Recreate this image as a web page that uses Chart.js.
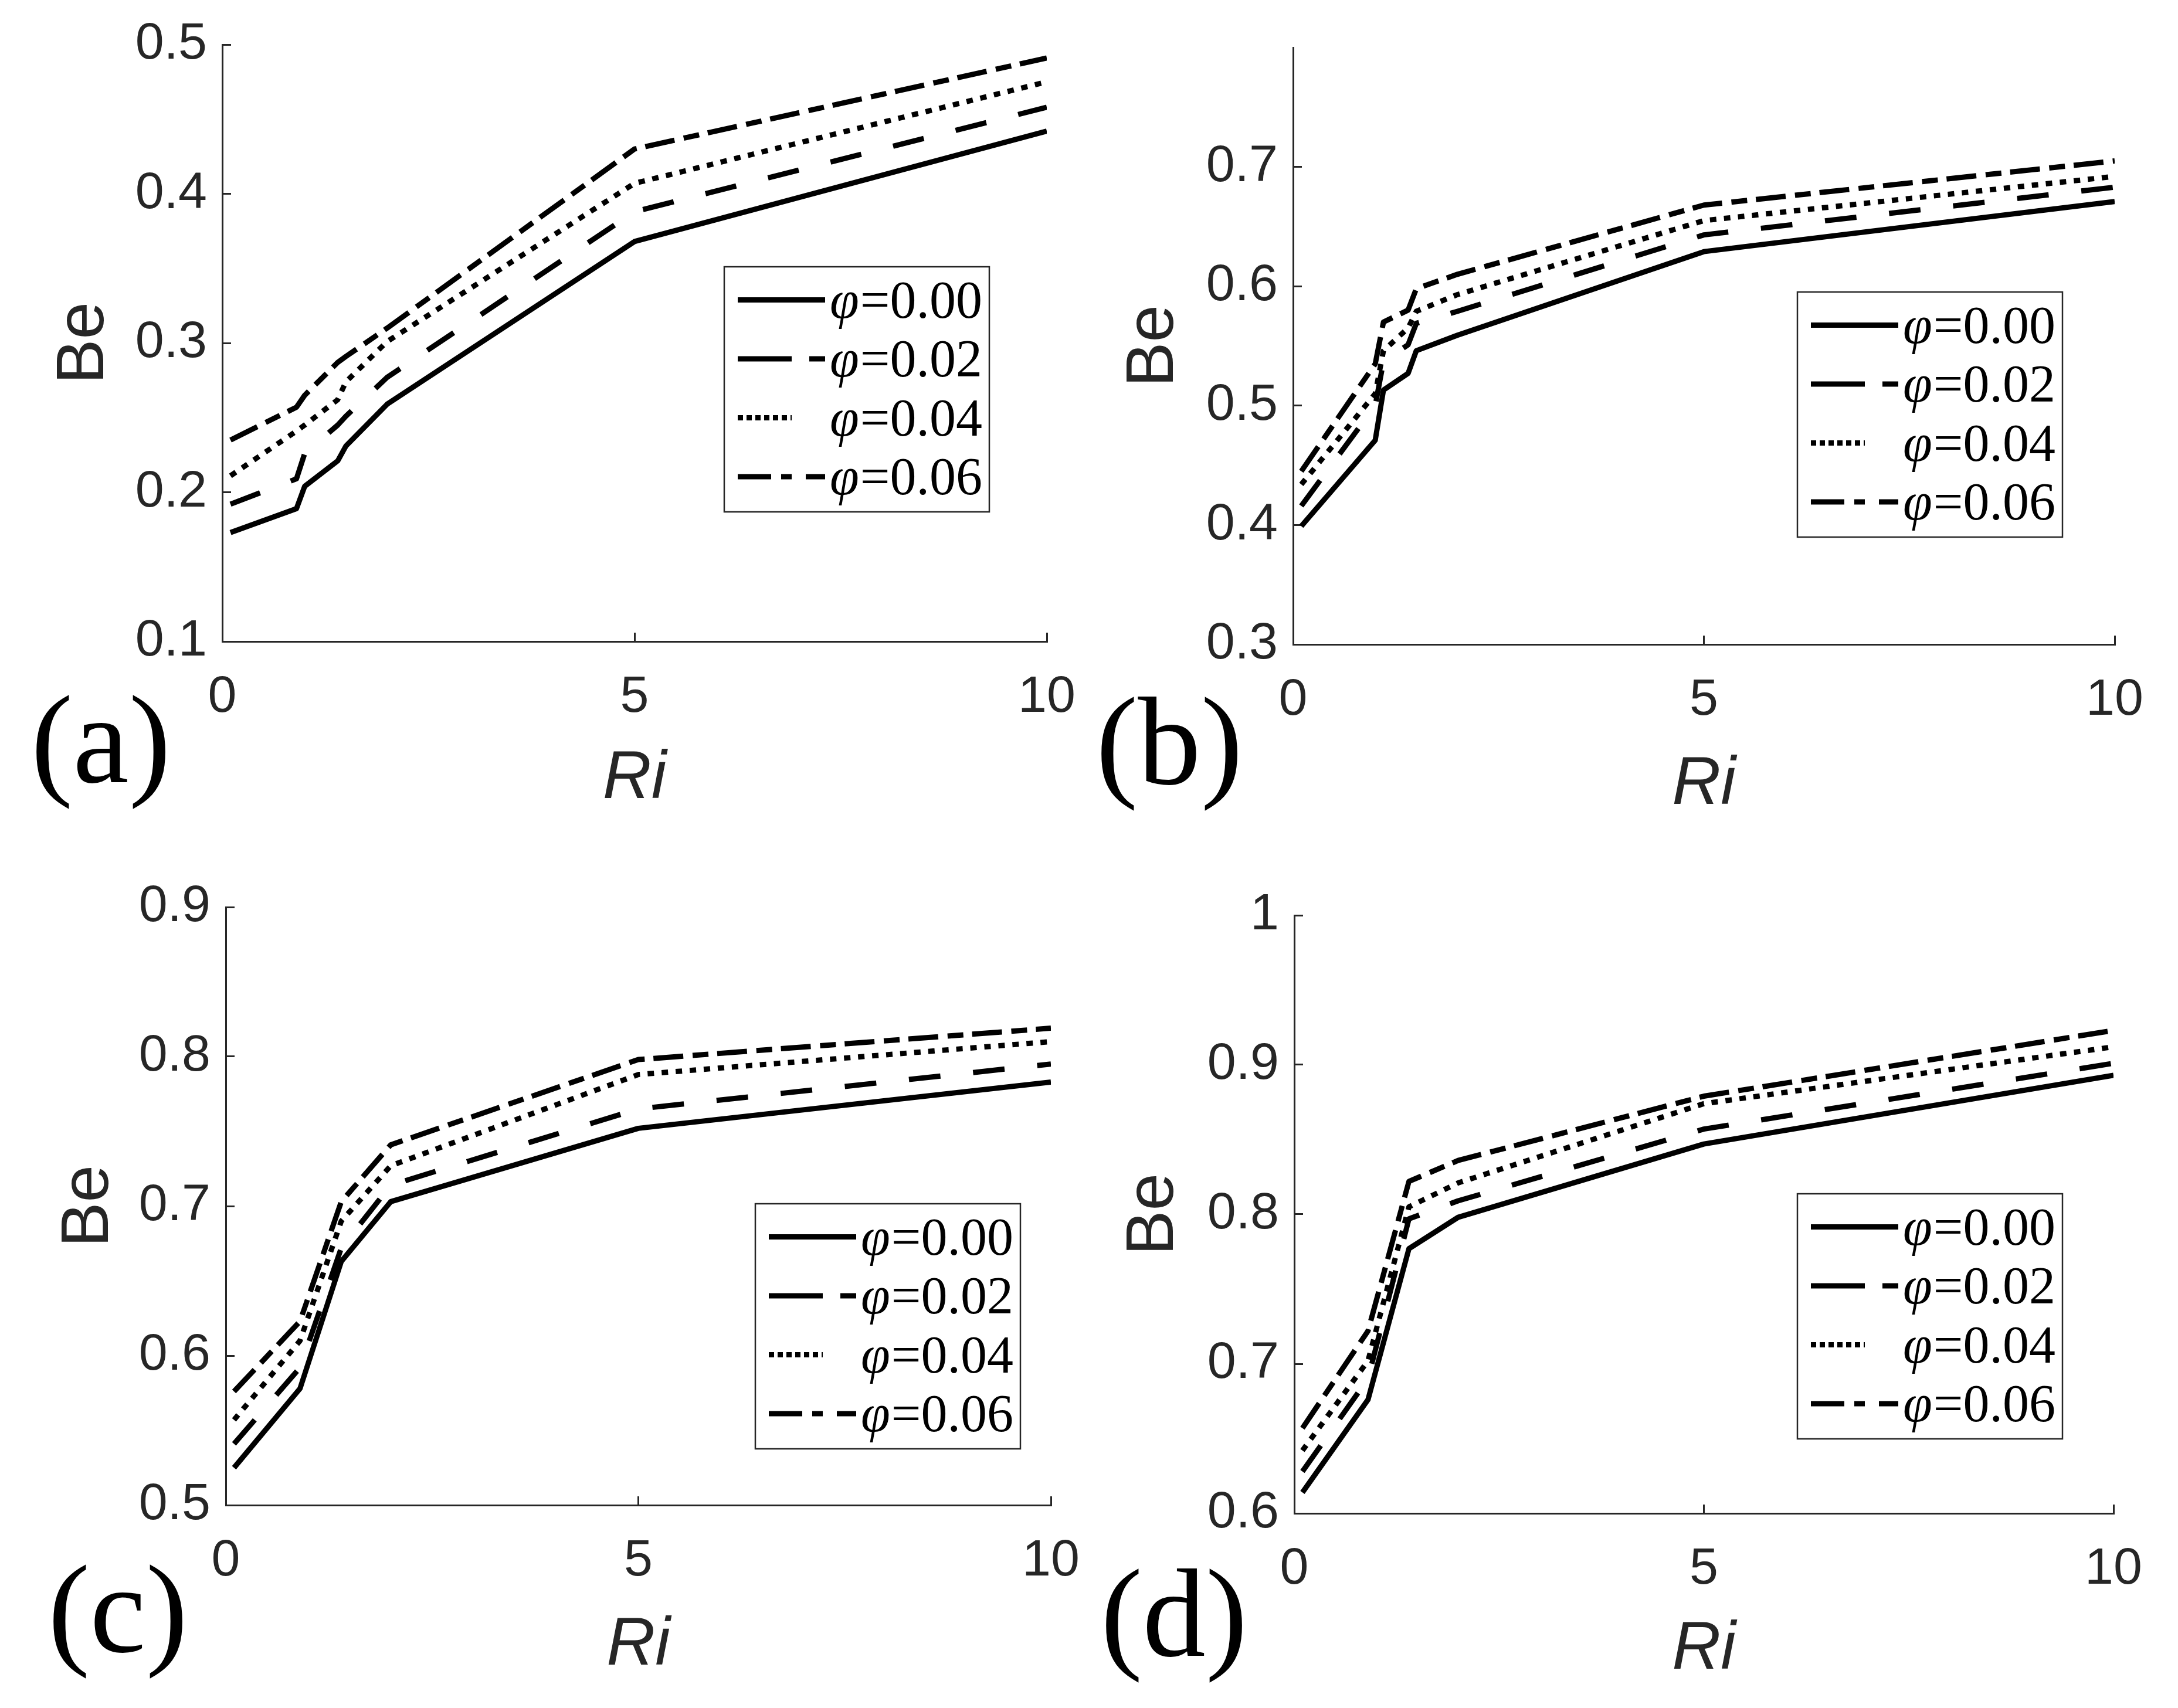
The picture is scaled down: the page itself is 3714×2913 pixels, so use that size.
<!DOCTYPE html>
<html>
<head>
<meta charset="utf-8">
<script src="https://cdn.jsdelivr.net/npm/chart.js@4"></script>
<style>
  html, body { margin: 0; padding: 0; background: #fff; }
  #wrap { position: relative; width: 3714px; height: 2913px; background: #fff; }
  canvas { position: absolute; }
</style>
</head>
<body>
<div id="wrap">
  <canvas id="pa" width="1857" height="1456" style="left:0px;top:0px"></canvas>
  <canvas id="pb" width="1857" height="1456" style="left:1857px;top:0px"></canvas>
  <canvas id="pc" width="1857" height="1457" style="left:0px;top:1456px"></canvas>
  <canvas id="pd" width="1857" height="1457" style="left:1857px;top:1456px"></canvas>
</div>
<script>
// legend values of the volume fraction
const phiLabels = ["0.00", "0.02", "0.04", "0.06"];

// panel (a)
const riA   = [0.1, 0.9, 1.0, 1.4, 1.5, 2, 5, 10];
const beA00 = [0.173, 0.189, 0.204, 0.221, 0.231, 0.259, 0.368, 0.442];
const beA02 = [0.192, 0.209, 0.226, 0.245, 0.251, 0.277, 0.388, 0.458];
const beA04 = [0.211, 0.241, 0.245, 0.262, 0.274, 0.301, 0.407, 0.475];
const beA06 = [0.235, 0.257, 0.265, 0.287, 0.291, 0.310, 0.430, 0.491];

// panel (b)
const riB   = [0.1, 1.0, 1.1, 1.4, 1.5, 2, 5, 10];
const beB00 = [0.399, 0.471, 0.513, 0.527, 0.546, 0.559, 0.629, 0.671];
const beB02 = [0.416, 0.500, 0.537, 0.551, 0.569, 0.579, 0.643, 0.683];
const beB04 = [0.434, 0.510, 0.546, 0.565, 0.579, 0.593, 0.655, 0.692];
const beB06 = [0.445, 0.535, 0.570, 0.580, 0.598, 0.610, 0.668, 0.705];

// panel (c)
const riC   = [0.1, 0.9, 1.4, 2, 5, 10];
const beC00 = [0.525, 0.578, 0.663, 0.703, 0.752, 0.783];
const beC02 = [0.541, 0.592, 0.672, 0.714, 0.765, 0.795];
const beC04 = [0.557, 0.610, 0.690, 0.727, 0.788, 0.810];
const beC06 = [0.576, 0.623, 0.703, 0.741, 0.798, 0.819];

// panel (d)
const riD   = [0.1, 0.9, 1.4, 2, 5, 10];
const beD00 = [0.614, 0.676, 0.777, 0.798, 0.847, 0.893];
const beD02 = [0.628, 0.690, 0.797, 0.809, 0.857, 0.901];
const beD04 = [0.642, 0.702, 0.805, 0.821, 0.874, 0.912];
const beD06 = [0.657, 0.722, 0.822, 0.836, 0.879, 0.923];

// line styles (solid, dashed, dotted, dash-dot)
const lineDash   = [[], [54, 56], [11, 13], [51, 16, 27, 15]];
const legendDash = [[], [92, 30], [9, 6], [57, 17, 18, 24]];
const legendLen  = [149, 149, 92, 149];

const W = 1857;
const AXIS = '#262626';
const SANS = '"Liberation Sans", Arial, sans-serif';
const SERIF = '"Liberation Serif", "Times New Roman", serif';
const TICK_SIZE = 88;
const TITLE_SIZE = 115;

const panels = [
  { id: 'pa', tag: '(a)', ri: riA, be: [beA00, beA02, beA04, beA06], yMin: 0.1, yMax: 0.5, hideTop: false,
    area: { l: 379, r: 1785, t: 76, b: 1094 }, h: 1456, yTitleX: 144, xTitleBase: 1369,
    tagPos: { x: 172, y: 1334 }, legend: { x: 1235, y: 455 } },
  { id: 'pb', tag: '(b)', ri: riB, be: [beB00, beB02, beB04, beB06], yMin: 0.3, yMax: 0.8, hideTop: true,
    area: { l: 348, r: 1749, t: 81, b: 1099 }, h: 1456, yTitleX: 111, xTitleBase: 1379,
    tagPos: { x: 137, y: 1337 }, legend: { x: 1208, y: 498 } },
  { id: 'pc', tag: '(c)', ri: riC, be: [beC00, beC02, beC04, beC06], yMin: 0.5, yMax: 0.9, hideTop: false,
    area: { l: 385, r: 1792, t: 91, b: 1111 }, h: 1457, yTitleX: 152, xTitleBase: 1391,
    tagPos: { x: 201, y: 1361 }, legend: { x: 1288, y: 597 } },
  { id: 'pd', tag: '(d)', ri: riD, be: [beD00, beD02, beD04, beD06], yMin: 0.6, yMax: 1.0, hideTop: false,
    area: { l: 350, r: 1747, t: 105, b: 1125 }, h: 1457, yTitleX: 111, xTitleBase: 1398,
    tagPos: { x: 145, y: 1368 }, legend: { x: 1208, y: 580 } }
];

function drawLegend(ctx, p) {
  const bx = p.legend.x, by = p.legend.y, bw = 452, bh = 418;
  ctx.save();
  ctx.fillStyle = '#fff';
  ctx.fillRect(bx, by, bw, bh);
  ctx.strokeStyle = AXIS;
  ctx.lineWidth = 2.5;
  ctx.setLineDash([]);
  ctx.strokeRect(bx, by, bw, bh);
  for (let k = 0; k < 4; k++) {
    const ry = by + 56.5 + k * 100.5;
    ctx.beginPath();
    ctx.setLineDash(legendDash[k]);
    ctx.lineCap = 'butt';
    ctx.lineWidth = 9;
    ctx.strokeStyle = '#000';
    ctx.moveTo(bx + 23, ry);
    ctx.lineTo(bx + 23 + legendLen[k], ry);
    ctx.stroke();
    ctx.setLineDash([]);
    ctx.fillStyle = '#000';
    ctx.textBaseline = 'alphabetic';
    ctx.textAlign = 'left';
    let tx = bx + 180;
    const base = ry + 30;
    ctx.font = 'italic 90px ' + SERIF;
    ctx.fillText('\u03C6', tx, base);
    tx += ctx.measureText('\u03C6').width + 2;
    ctx.font = '90px ' + SERIF;
    ctx.fillText('=' + phiLabels[k], tx, base);
  }
  ctx.restore();
}

function makeChart(p) {
  const canvas = document.getElementById(p.id);
  const tickFont = { family: SANS, size: TICK_SIZE, lineHeight: 1.2 };
  const lh = TITLE_SIZE * 1.2;
  const xTitleY = p.xTitleBase - 0.3465 * TITLE_SIZE;

  const decor = {
    id: 'decor_' + p.id,
    afterDraw(chart) {
      const ctx = chart.ctx;
      drawLegend(ctx, p);
      ctx.save();
      ctx.fillStyle = '#000';
      ctx.font = '215px ' + SERIF;
      ctx.textAlign = 'center';
      ctx.textBaseline = 'alphabetic';
      ctx.fillText(p.tag, p.tagPos.x, p.tagPos.y);
      ctx.restore();
    }
  };

  new Chart(canvas, {
    type: 'line',
    data: {
      datasets: p.be.map((vals, k) => ({
        label: '\u03C6=' + phiLabels[k],
        data: p.ri.map((x, i) => ({ x: x, y: vals[i] })),
        borderColor: '#000',
        borderWidth: 9,
        borderDash: lineDash[k],
        borderCapStyle: 'butt',
        borderJoinStyle: 'round',
        pointRadius: 0,
        tension: 0,
        fill: false
      }))
    },
    options: {
      responsive: false,
      animation: false,
      devicePixelRatio: 1,
      layout: { padding: { top: p.area.t, right: W - p.area.r, left: 0, bottom: 0 } },
      plugins: { legend: { display: false }, tooltip: { enabled: false } },
      scales: {
        x: {
          type: 'linear', position: 'bottom', min: 0, max: 10,
          ticks: { stepSize: 5, font: tickFont, color: AXIS, padding: 58, maxRotation: 0, autoSkip: false },
          grid: { drawOnChartArea: false, drawTicks: true, tickLength: -15, color: AXIS, lineWidth: 3 },
          border: { display: true, color: AXIS, width: 3 },
          title: {
            display: true, text: 'Ri', color: AXIS,
            font: { family: SANS, size: TITLE_SIZE, style: 'italic', lineHeight: 1.2 },
            padding: { top: 0, bottom: p.h - xTitleY - lh / 2 }
          },
          afterFit: s => {
            s.height = p.h - p.area.b;
            s.paddingLeft = 0;
            s.paddingRight = 0;
          }
        },
        y: {
          type: 'linear', position: 'left', min: p.yMin, max: p.yMax,
          ticks: {
            stepSize: 0.1, font: tickFont, color: AXIS, padding: 41, autoSkip: false,
            callback: v => (Math.abs(v - 1) < 1e-9 ? '1' : v.toFixed(1))
          },
          afterBuildTicks: s => {
            if (p.hideTop) s.ticks = s.ticks.filter(t => t.value < p.yMax - 1e-6);
          },
          grid: { drawOnChartArea: false, drawTicks: true, tickLength: -15, color: AXIS, lineWidth: 3 },
          border: { display: true, color: AXIS, width: 3 },
          title: {
            display: true, text: 'Be', color: AXIS,
            font: { family: SANS, size: TITLE_SIZE, lineHeight: 1.2 },
            padding: { top: p.yTitleX - lh / 2, bottom: 0 }
          },
          afterFit: s => {
            s.width = p.area.l;
            s.paddingTop = 0;
            s.paddingBottom = 0;
          }
        }
      }
    },
    plugins: [decor]
  });
}

panels.forEach(makeChart);
</script>
</body>
</html>
